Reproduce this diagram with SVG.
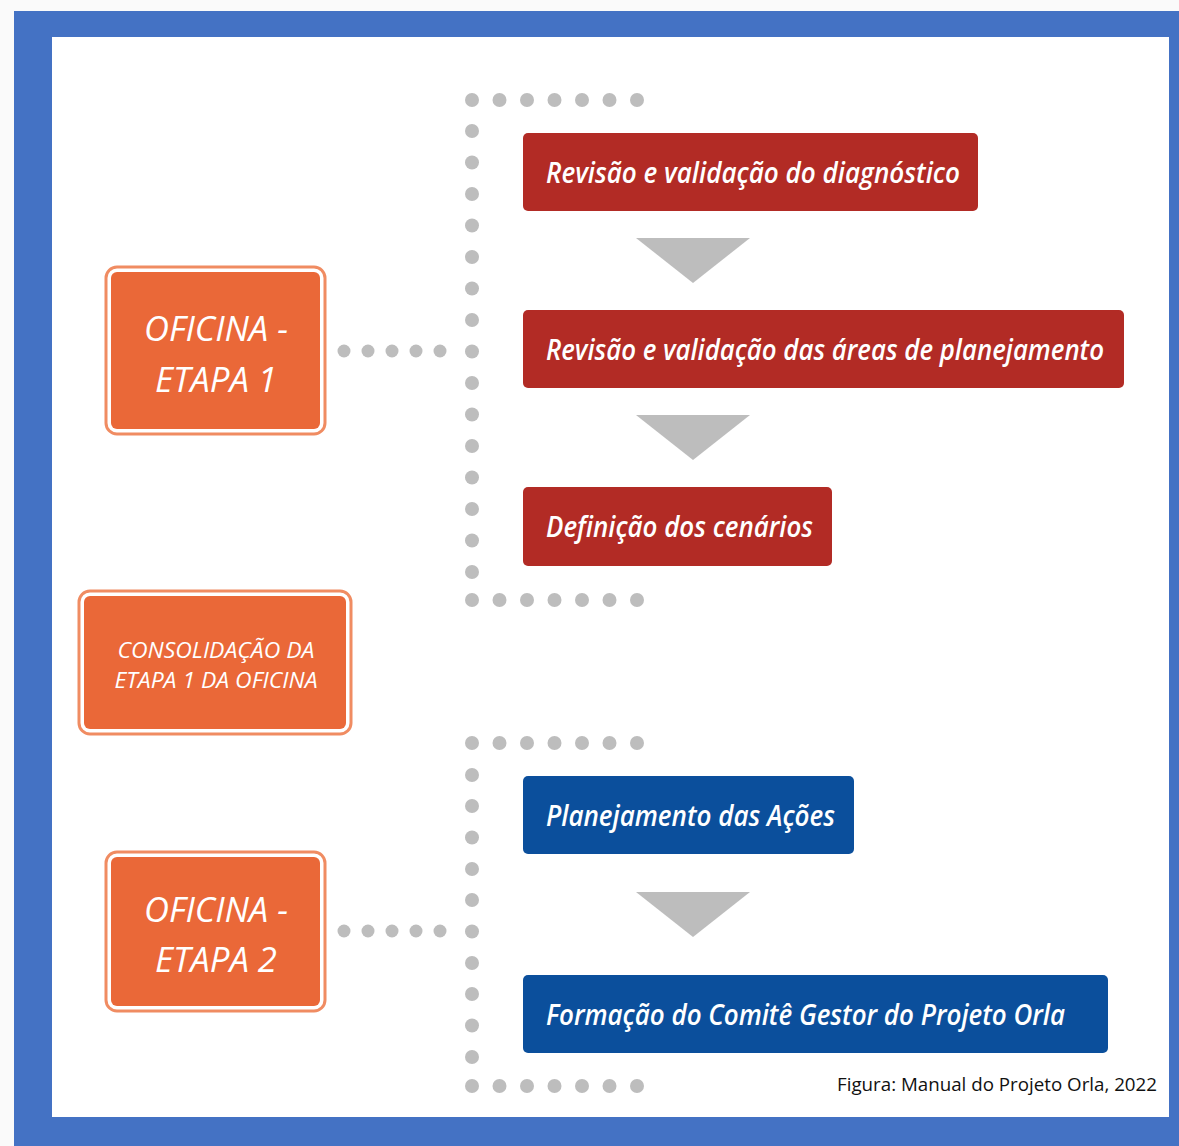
<svg xmlns="http://www.w3.org/2000/svg" width="1179" height="1146" viewBox="0 0 1179 1146">
<style>
.bg{fill:#FAFAFA}
.frame{fill:#4472C4}
.paper{fill:#FFFFFF}
.dot{fill:#BDBDBD}
.tri{fill:#BDBDBD}
.ob-out{fill:#FFFFFF;stroke:#F08C62;stroke-width:3}
.ob-in{fill:#EA6838}
.ob-t{font-family:"Open Sans","Liberation Sans",sans-serif;font-style:italic;fill:#FFFFFF;text-anchor:middle}
.red{fill:#B22B25}
.blue{fill:#0B4F9C}
.bt{font-family:"Open Sans","Liberation Sans",sans-serif;font-style:italic;font-weight:600;font-size:29px;fill:#FFFFFF}
.cap{font-family:"Open Sans","Liberation Sans",sans-serif;font-size:18px;fill:#111111}
</style>
<rect class="bg" x="0" y="0" width="1179" height="1146"/>
<rect class="frame" x="14" y="11" width="1165" height="1135"/>
<rect class="paper" x="52" y="37" width="1117" height="1080"/>

<g id="connectors">
  <g id="bracket-1">
    <circle class="dot" cx="472" cy="100" r="7"/><circle class="dot" cx="499.5" cy="100" r="7"/><circle class="dot" cx="527" cy="100" r="7"/><circle class="dot" cx="554.5" cy="100" r="7"/><circle class="dot" cx="582" cy="100" r="7"/><circle class="dot" cx="609.5" cy="100" r="7"/><circle class="dot" cx="637" cy="100" r="7"/>
    <circle class="dot" cx="472" cy="131" r="7"/><circle class="dot" cx="472" cy="162.5" r="7"/><circle class="dot" cx="472" cy="194" r="7"/><circle class="dot" cx="472" cy="225.5" r="7"/><circle class="dot" cx="472" cy="257" r="7"/><circle class="dot" cx="472" cy="288.5" r="7"/><circle class="dot" cx="472" cy="320" r="7"/><circle class="dot" cx="472" cy="351.5" r="7"/><circle class="dot" cx="472" cy="383" r="7"/><circle class="dot" cx="472" cy="414.5" r="7"/><circle class="dot" cx="472" cy="446" r="7"/><circle class="dot" cx="472" cy="477.5" r="7"/><circle class="dot" cx="472" cy="509" r="7"/><circle class="dot" cx="472" cy="540.5" r="7"/><circle class="dot" cx="472" cy="572" r="7"/>
    <circle class="dot" cx="472" cy="600" r="7"/><circle class="dot" cx="499.5" cy="600" r="7"/><circle class="dot" cx="527" cy="600" r="7"/><circle class="dot" cx="554.5" cy="600" r="7"/><circle class="dot" cx="582" cy="600" r="7"/><circle class="dot" cx="609.5" cy="600" r="7"/><circle class="dot" cx="637" cy="600" r="7"/>
    <circle class="dot" cx="344" cy="351" r="6.5"/><circle class="dot" cx="368" cy="351" r="6.5"/><circle class="dot" cx="392" cy="351" r="6.5"/><circle class="dot" cx="416" cy="351" r="6.5"/><circle class="dot" cx="440" cy="351" r="6.5"/>
  </g>
  <g id="bracket-2">
    <circle class="dot" cx="472" cy="743" r="7"/><circle class="dot" cx="499.5" cy="743" r="7"/><circle class="dot" cx="527" cy="743" r="7"/><circle class="dot" cx="554.5" cy="743" r="7"/><circle class="dot" cx="582" cy="743" r="7"/><circle class="dot" cx="609.5" cy="743" r="7"/><circle class="dot" cx="637" cy="743" r="7"/>
    <circle class="dot" cx="472" cy="775" r="7"/><circle class="dot" cx="472" cy="806" r="7"/><circle class="dot" cx="472" cy="837.5" r="7"/><circle class="dot" cx="472" cy="869" r="7"/><circle class="dot" cx="472" cy="900" r="7"/><circle class="dot" cx="472" cy="931.5" r="7"/><circle class="dot" cx="472" cy="963" r="7"/><circle class="dot" cx="472" cy="994" r="7"/><circle class="dot" cx="472" cy="1025.5" r="7"/><circle class="dot" cx="472" cy="1057" r="7"/>
    <circle class="dot" cx="472" cy="1086" r="7"/><circle class="dot" cx="499.5" cy="1086" r="7"/><circle class="dot" cx="527" cy="1086" r="7"/><circle class="dot" cx="554.5" cy="1086" r="7"/><circle class="dot" cx="582" cy="1086" r="7"/><circle class="dot" cx="609.5" cy="1086" r="7"/><circle class="dot" cx="637" cy="1086" r="7"/>
    <circle class="dot" cx="344" cy="931" r="6.5"/><circle class="dot" cx="368" cy="931" r="6.5"/><circle class="dot" cx="392" cy="931" r="6.5"/><circle class="dot" cx="416" cy="931" r="6.5"/><circle class="dot" cx="440" cy="931" r="6.5"/>
  </g>
  <polygon class="tri" points="636,238 750,238 693,283"/>
  <polygon class="tri" points="636,415 750,415 693,460"/>
  <polygon class="tri" points="636,892 750,892 693,937"/>
</g>

<g id="oficina-etapa-1">
  <rect class="ob-out" x="106" y="267" width="219" height="167" rx="11"/>
  <rect class="ob-in" x="111" y="272" width="209" height="157" rx="6"/>
  <text class="ob-t" x="216" y="341" font-size="35" textLength="144" lengthAdjust="spacingAndGlyphs">OFICINA -</text>
  <text class="ob-t" x="216" y="392" font-size="35" textLength="122" lengthAdjust="spacingAndGlyphs">ETAPA 1</text>
</g>

<g id="consolidacao">
  <rect class="ob-out" x="79" y="591" width="272" height="143" rx="11"/>
  <rect class="ob-in" x="84" y="596" width="262" height="133" rx="6"/>
  <text class="ob-t" x="216" y="658" font-size="21" textLength="197" lengthAdjust="spacingAndGlyphs">CONSOLIDAÇÃO DA</text>
  <text class="ob-t" x="216" y="688" font-size="21" textLength="203" lengthAdjust="spacingAndGlyphs">ETAPA 1 DA OFICINA</text>
</g>

<g id="oficina-etapa-2">
  <rect class="ob-out" x="106" y="852" width="219" height="159" rx="11"/>
  <rect class="ob-in" x="111" y="857" width="209" height="149" rx="6"/>
  <text class="ob-t" x="216" y="922" font-size="35" textLength="144" lengthAdjust="spacingAndGlyphs">OFICINA -</text>
  <text class="ob-t" x="216" y="972" font-size="35" textLength="122" lengthAdjust="spacingAndGlyphs">ETAPA 2</text>
</g>

<g id="revisao-diagnostico">
  <rect class="red" x="523" y="133" width="455" height="78" rx="5"/>
  <text class="bt" x="546" y="183" textLength="414" lengthAdjust="spacingAndGlyphs">Revisão e validação do diagnóstico</text>
</g>
<g id="revisao-areas">
  <rect class="red" x="523" y="310" width="601" height="78" rx="5"/>
  <text class="bt" x="546" y="360" textLength="558" lengthAdjust="spacingAndGlyphs">Revisão e validação das áreas de planejamento</text>
</g>
<g id="definicao-cenarios">
  <rect class="red" x="523" y="487" width="309" height="79" rx="5"/>
  <text class="bt" x="546" y="537" textLength="267" lengthAdjust="spacingAndGlyphs">Definição dos cenários</text>
</g>
<g id="planejamento-acoes">
  <rect class="blue" x="523" y="776" width="331" height="78" rx="5"/>
  <text class="bt" x="546" y="826" textLength="289" lengthAdjust="spacingAndGlyphs">Planejamento das Ações</text>
</g>
<g id="formacao-comite">
  <rect class="blue" x="523" y="975" width="585" height="78" rx="5"/>
  <text class="bt" x="546" y="1025" textLength="519" lengthAdjust="spacingAndGlyphs">Formação do Comitê Gestor do Projeto Orla</text>
</g>

<text class="cap" x="837" y="1091" textLength="320" lengthAdjust="spacingAndGlyphs">Figura: Manual do Projeto Orla, 2022</text>
</svg>
